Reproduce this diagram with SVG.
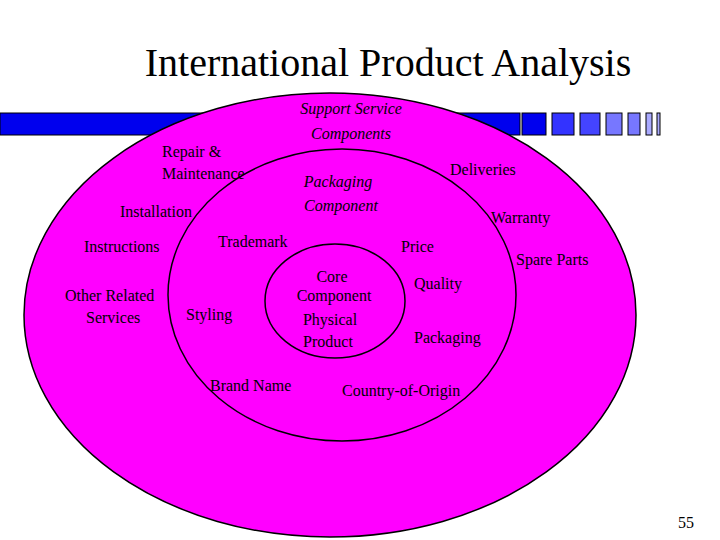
<svg xmlns="http://www.w3.org/2000/svg" width="720" height="540" viewBox="0 0 720 540">
<style>
text{font-family:"Liberation Serif","Times New Roman","DejaVu Serif",serif}
.t{font-size:16px;fill:#000}
.i{font-style:italic}
.e{fill:#ff00ff;stroke:#000;stroke-width:1.5}
.b{stroke:#000;stroke-width:1}
</style>
<rect width="720" height="540" fill="#fff"/>
<text x="388" y="76" text-anchor="middle" font-size="40">International Product Analysis</text>
<g id="bar">
<rect class="b" x="0" y="113" width="520" height="22" fill="#0000ee"/>
<rect class="b" x="522" y="113" width="24" height="22" fill="#0000ee"/>
<rect class="b" x="552" y="113" width="22" height="22" fill="#3333ff"/>
<rect class="b" x="580" y="113" width="20" height="22" fill="#4444ff"/>
<rect class="b" x="606" y="113" width="16" height="22" fill="#7777ff"/>
<rect class="b" x="628" y="113" width="12" height="22" fill="#7777ff"/>
<rect class="b" x="646" y="113" width="6" height="22" fill="#aaaaff"/>
<rect class="b" x="657" y="113" width="3" height="22" fill="#aaaaff"/>
</g>
<g id="outer"><ellipse class="e" cx="330" cy="315" rx="306" ry="222"/></g>
<g id="middle"><ellipse class="e" cx="342" cy="295" rx="174" ry="146"/></g>
<g id="inner"><ellipse class="e" cx="335" cy="301" rx="70" ry="57"/></g>
<g id="labels">
<text class="t i" x="351" y="114" text-anchor="middle">Support Service</text>
<text class="t i" x="351" y="139" text-anchor="middle" font-size="15">Components</text>
<text class="t" x="162" y="157">Repair &amp;</text>
<text class="t" x="162" y="179">Maintenance</text>
<text class="t" x="120" y="217">Installation</text>
<text class="t" x="84" y="252">Instructions</text>
<text class="t" x="65" y="301">Other Related</text>
<text class="t" x="86" y="323">Services</text>
<text class="t" x="450" y="175">Deliveries</text>
<text class="t" x="491" y="223">Warranty</text>
<text class="t" x="516" y="265">Spare Parts</text>
<text class="t i" x="338" y="187" text-anchor="middle" font-size="17">Packaging</text>
<text class="t i" x="341" y="211" text-anchor="middle" font-size="17">Component</text>
<text class="t" x="218" y="247">Trademark</text>
<text class="t" x="401" y="252">Price</text>
<text class="t" x="414" y="289">Quality</text>
<text class="t" x="186" y="320">Styling</text>
<text class="t" x="414" y="343">Packaging</text>
<text class="t" x="210" y="391">Brand Name</text>
<text class="t" x="342" y="396">Country-of-Origin</text>
<text class="t" x="332" y="282" text-anchor="middle" font-size="17">Core</text>
<text class="t" x="334" y="301" text-anchor="middle" font-size="17">Component</text>
<text class="t" x="330" y="325" text-anchor="middle">Physical</text>
<text class="t" x="328" y="347" text-anchor="middle">Product</text>
<text class="t" x="678" y="528" font-size="20">55</text>
</g>
</svg>
